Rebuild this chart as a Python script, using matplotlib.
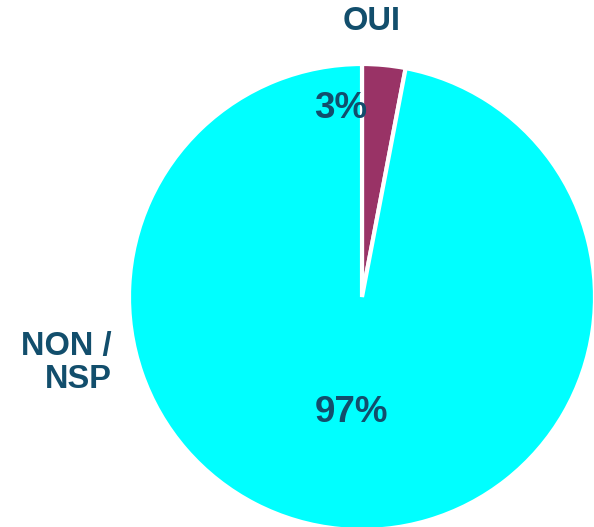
import matplotlib.pyplot as plt

labels = ["OUI", "NON /\nNSP"]
values = [3, 97]
pct_text = ["3%", "97%"]
colors = ["#993366", "#00FFFF"]
text_color = "#124E6C"

plt.rcParams['font.family'] = ['Liberation Sans', 'DejaVu Sans']

fig = plt.figure(figsize=(5.94, 5.27), dpi=100)
ax = fig.add_axes([0, 0, 1, 1])
ax.set_xlim(0, 594)
ax.set_ylim(0, 527)
ax.axis('off')

# pie in pixel coords (y up)
ax.pie(values, colors=colors, startangle=90, counterclock=False,
       center=(362, 527 - 297), radius=233, explode=[0.012, 0],
       wedgeprops=dict(edgecolor='white', linewidth=3))
ax.set_xlim(0, 594)
ax.set_ylim(0, 527)
ax.set_aspect('equal')

ax.text(372, 527 - 21, labels[0], ha='center', va='center', fontsize=23.5,
        fontweight='bold', color=text_color)
ax.text(112, 527 - 363, labels[1], ha='right', va='center', fontsize=23.5,
        fontweight='bold', color=text_color, multialignment='right', linespacing=1.1)
ax.text(341, 527 - 108, pct_text[0], ha='center', va='center', fontsize=26.5,
        fontweight='bold', color=text_color)
ax.text(352, 527 - 412, pct_text[1], ha='center', va='center', fontsize=26.5,
        fontweight='bold', color=text_color)

fig.savefig("out.png", dpi=100)
